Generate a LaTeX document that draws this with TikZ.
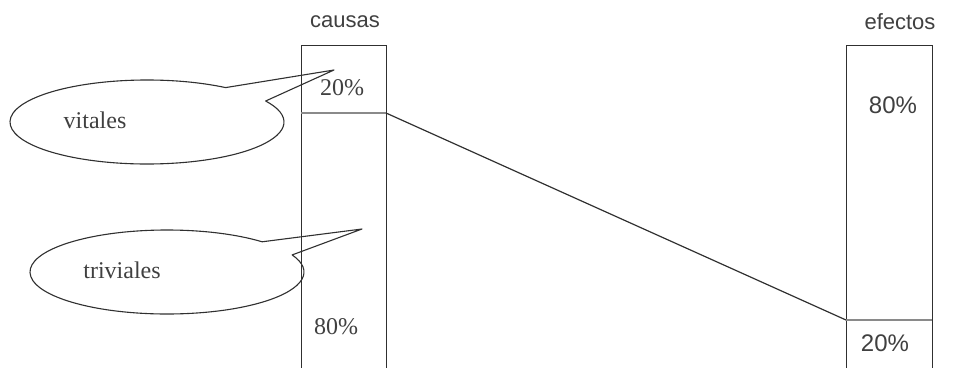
\documentclass[tikz,border=0pt]{standalone}
\usepackage{fontspec}
\setmainfont{Liberation Serif}
\newfontfamily\arialf{Liberation Sans}
\definecolor{lineC}{HTML}{303030}
\definecolor{divC}{HTML}{8A8A8A}
\definecolor{txtC}{HTML}{404040}
\begin{document}
\begin{tikzpicture}[x=1pt,y=-1pt,
  boxst/.style={draw=lineC,line width=1.4pt},
  divst/.style={draw=divC,line width=2.6pt},
  callout/.style={draw=lineC,line width=1.1pt,line join=round},
  serift/.style={font=\fontsize{24}{24}\selectfont,text=txtC,inner sep=0pt},
  sanst/.style={font=\arialf\fontsize{22}{22}\selectfont,text=txtC,inner sep=0pt},
  sansp/.style={font=\arialf\fontsize{24}{24}\selectfont,text=txtC,inner sep=0pt}]
\useasboundingbox[fill=white] (0,0) rectangle (971,367);
\clip (0,0) rectangle (971,367);
% boxes
\node[boxst,minimum width=85pt,minimum height=340pt,inner sep=0pt,anchor=north west] (cbox) at (301,45) {};
\node[boxst,minimum width=86pt,minimum height=340pt,inner sep=0pt,anchor=north west] (ebox) at (846,45) {};
\coordinate (cdl) at (301,113);
\coordinate (cdr) at (386,113);
\coordinate (edl) at (846,320);
\coordinate (edr) at (932,320);
\draw[divst] (cdl) -- (cdr);
\draw[divst] (edl) -- (edr);
\draw[draw=lineC,line width=1.2pt] (cdr) -- (edl);
% labels
\node[sanst] (causas) at (345,22) {causas};
\node[sanst] (efectos) at (900,22) {efectos};
\node[serift] (c20) at (342,88) {20\%};
\node[serift] (c80) at (336,327) {80\%};
\node[sansp] (e80) at (893,105) {80\%};
\node[sansp] (e20) at (885,343) {20\%};
% callouts
\coordinate (vc) at (147,122);
\coordinate (vtip) at (334,70);
\draw[callout] ([shift={(55:137pt and 42pt)}]vc) arc[start angle=55,end angle=390,x radius=137pt,y radius=42pt] -- (vtip) -- cycle;
\node[serift] (vitales) at (95,120) {vitales};
\coordinate (tc) at (167,272);
\coordinate (ttip) at (362,229);
\draw[callout] ([shift={(46:137pt and 42pt)}]tc) arc[start angle=46,end angle=384,x radius=137pt,y radius=42pt] -- (ttip) -- cycle;
\node[serift] (triviales) at (122,270) {triviales};
\end{tikzpicture}
\end{document}
